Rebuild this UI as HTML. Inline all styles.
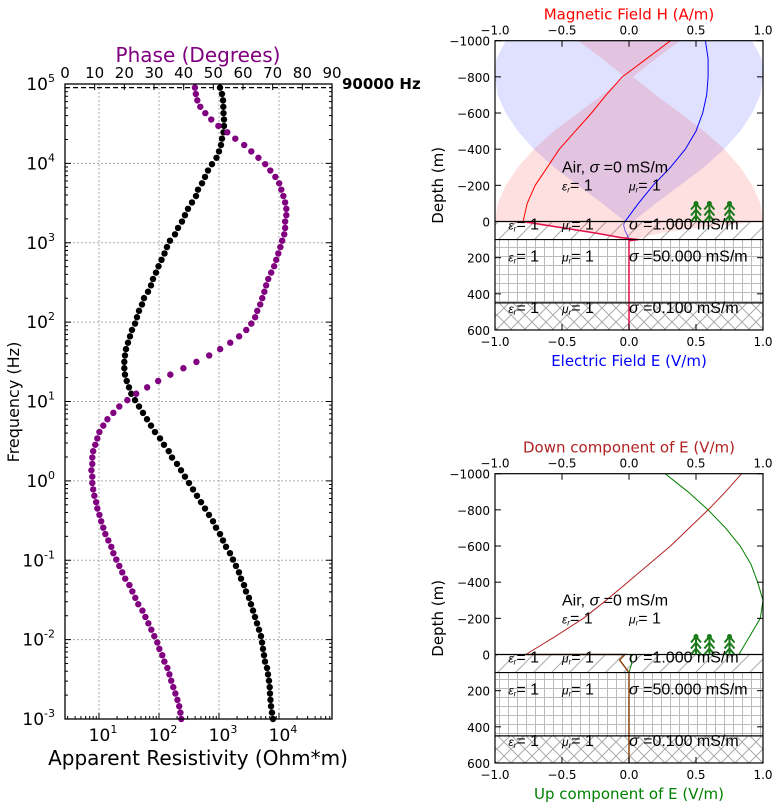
<!DOCTYPE html>
<html><head><meta charset="utf-8"><style>
body{margin:0;background:#fff}
svg text{font-family:"Liberation Sans","DejaVu Sans",sans-serif}
svg text.dv{font-family:"DejaVu Sans","Liberation Sans",sans-serif}
</style></head><body>
<svg id="s" width="779" height="807" viewBox="0 0 779 807" xmlns="http://www.w3.org/2000/svg">
<defs>
<pattern id="hDiag" patternUnits="userSpaceOnUse" width="18" height="18"><path d="M0,18 L18,0 M-3,3 L3,-3 M15,21 L21,15" stroke="#aaa" stroke-width="1"/></pattern>
<pattern id="hGrid" patternUnits="userSpaceOnUse" width="9" height="9"><path d="M4.5,0 V9 M0,4.5 H9" stroke="#bbb" stroke-width="1"/></pattern>
<pattern id="hCross" patternUnits="userSpaceOnUse" width="14" height="14"><path d="M0,0 L14,14 M14,0 L0,14" stroke="#aaa" stroke-width="1"/></pattern>
<clipPath id="cTop"><rect x="495" y="40.7" width="268" height="289.3"/></clipPath>
<clipPath id="cBot"><rect x="495" y="473.7" width="268" height="289"/></clipPath>
</defs>
<g id="left"></g>
<g id="top"></g>
<g id="bot"></g>
</svg>
<script>
const fMinLog = -3;
const fMaxLog = Math.log10(90000);
const nFreq = 100;
const apparentResistivityLog10 = [3.90,3.883,3.867,3.858,3.85,3.845,3.833,3.817,3.80,3.767,3.75,3.733,3.717,3.70,3.667,3.633,3.60,3.567,3.533,3.50,3.45,3.417,3.367,3.333,3.283,3.233,3.183,3.117,3.067,3.017,2.95,2.90,2.833,2.767,2.70,2.633,2.567,2.50,2.433,2.367,2.30,2.217,2.162,2.083,2.017,1.933,1.867,1.80,1.733,1.667,1.60,1.538,1.50,1.462,1.433,1.422,1.422,1.433,1.45,1.483,1.517,1.55,1.60,1.633,1.667,1.717,1.75,1.817,1.867,1.90,1.95,1.992,2.042,2.092,2.133,2.183,2.267,2.317,2.383,2.433,2.483,2.55,2.617,2.65,2.717,2.767,2.817,2.883,2.958,3.00,3.033,3.05,3.075,3.083,3.083,3.075,3.072,3.067,3.05,3.017];
const phaseDeg = [39.2,38.9,38.5,37.9,37.2,36.5,35.8,35.2,34.5,33.5,32.8,31.8,31.1,30.1,29.1,28.1,27.1,26.1,24.7,23.7,22.7,21.7,20.3,19.3,18.3,17.3,16.3,15.6,14.6,13.6,12.9,12.2,11.6,10.9,10.5,9.9,9.5,9.2,9.2,8.9,9.2,9.2,9.5,10.2,10.9,11.6,12.9,14.3,16.3,18.3,21.0,24.0,27.7,31.4,35.5,39.9,44.3,48.6,52.3,55.7,58.7,61.1,62.8,64.1,64.8,65.8,66.5,67.2,67.8,68.5,69.5,70.5,71.2,71.9,72.6,73.2,73.9,74.2,74.2,74.6,74.6,74.2,73.6,72.9,72.2,70.9,69.2,67.5,65.2,62.8,60.4,57.4,54.7,51.7,49.3,47.3,45.6,44.6,44.1,43.8];
const freqTickExp = [5,4,3,2,1,0,-1,-2,-3];
const rhoTickExp = [1,2,3,4];
const phaseTicks = [0,10,20,30,40,50,60,70,80,90];
const markerFreq = 90000;

const depthAir = [-1000,-900,-800,-700,-600,-500,-400,-300,-200,-100,0];
const hField = [0.31,0.13,-0.05,-0.17,-0.28,-0.40,-0.52,-0.61,-0.70,-0.76,-0.79];
const eField = [0.57,0.59,0.59,0.58,0.55,0.50,0.42,0.31,0.18,0.07,-0.03];
const hEnvelope = [0.38,0.20,0.03,0.20,0.38,0.56,0.71,0.83,0.92,0.98,1.0];
const eEnvelope = [0.92,0.99,1.0,0.98,0.92,0.83,0.71,0.56,0.38,0.20,0.03];
const depthL1H = [0,30,65,88,100,106,600];
const hFieldL1 = [-0.79,-0.54,-0.24,-0.07,0.07,0,0];
const depthL1E = [0,20,50,80,100,600];
const eFieldL1 = [-0.03,-0.04,-0.03,-0.01,0,0];
const depthL1Env = [0,20,40,60,80,100];
const hEnvelopeL1 = [1.0,0.7,0.45,0.27,0.13,0.06];
const downE = [0.84,0.72,0.59,0.45,0.31,0.15,-0.01,-0.17,-0.34,-0.55,-0.77];
const upE = [0.27,0.44,0.59,0.72,0.83,0.91,0.96,1.0,0.98,0.90,0.82];
const depthL1D = [0,0,30,60,100,600];
const downEL1 = [-0.77,-0.03,-0.07,-0.04,0,0];
const depthL1U = [0,0,50,100,600];
const upEL1 = [0.82,0.01,0.02,0,0];
const layerTops = [0,100,450];
const layerBottoms = [100,450,600];
const layerLabelDepth = [40,215,500];
const layerSigma = ["1.000","50.000","0.100"];
const layerHatch = ["hDiag","hGrid","hCross"];
const treeX = [0.5,0.6,0.75];
const depthTicks = [-1000,-800,-600,-400,-200,0,200,400,600];
const fieldTicks = [-1.0,-0.5,0.0,0.5,1.0];

const NS = "http://www.w3.org/2000/svg";
function mk(parent, tag, attrs, txt){const e=document.createElementNS(NS,tag);for(const k in attrs)e.setAttribute(k,attrs[k]);if(txt!==undefined)e.textContent=txt;parent.appendChild(e);return e;}

const L = document.getElementById('left');
const LX0=65, LX1=332, LY0=84, LY1=719;
const yF = lf => LY1 - (lf - (-3)) * (LY1-LY0)/8;
const xR = lr => 99 + (lr-1)*60;
const xP = p => LX0 + p*(LX1-LX0)/90;
freqTickExp.forEach(e=>{const g=mk(L,'line',{x1:LX0,x2:LX1,y1:yF(e),y2:yF(e),stroke:'#aaa','stroke-dasharray':'2,2'});
});
rhoTickExp.forEach(e=>{const g=mk(L,'line',{x1:xR(e),x2:xR(e),y1:LY0,y2:LY1,stroke:'#aaa','stroke-dasharray':'2,2'});
});
for(let e=-3;e<5;e++){for(let m=2;m<10;m++){const y=yF(e+Math.log10(m));mk(L,'line',{x1:LX0,x2:LX0+3,y1:y,y2:y,stroke:'#000'});mk(L,'line',{x1:LX1,x2:LX1-3,y1:y,y2:y,stroke:'#000'});}}
for(let e=0;e<5;e++){for(let m=1;m<10;m++){const x=xR(e+Math.log10(m));if(x<LX0||x>LX1)continue;const h=m===1?6:3;mk(L,'line',{x1:x,x2:x,y1:LY1,y2:LY1-h,stroke:'#000'});}}
freqTickExp.forEach(e=>{mk(L,'line',{x1:LX0,x2:LX0+6,y1:yF(e),y2:yF(e),stroke:'#000'});mk(L,'line',{x1:LX1,x2:LX1-6,y1:yF(e),y2:yF(e),stroke:'#000'});});
phaseTicks.forEach(p=>{mk(L,'line',{x1:xP(p),x2:xP(p),y1:LY0,y2:LY0+6,stroke:'#000'});
const t=mk(L,'text',{x:xP(p),y:78,'font-size':15,'text-anchor':'middle','class':'dv'},p);
});
freqTickExp.forEach(e=>{const t=mk(L,'text',{x:55,y:yF(e)+6,'font-size':17,'text-anchor':'end','class':'dv'});

t.appendChild(document.createTextNode('10'));mk(t,'tspan',{dy:-8,'font-size':11},String(e));});
rhoTickExp.forEach(e=>{const t=mk(L,'text',{x:xR(e)+4,y:741,'font-size':17,'text-anchor':'middle','class':'dv'});

t.appendChild(document.createTextNode('10'));mk(t,'tspan',{dy:-8,'font-size':11},e);});
const ym=yF(Math.log10(markerFreq));
const ml=mk(L,'line',{x1:LX0,x2:LX1,y1:ym,y2:ym,stroke:'#000','stroke-dasharray':'5,3','stroke-width':1.2});

const mt=mk(L,'text',{x:342,y:89,'font-size':15,'font-weight':'bold','class':'dv'},markerFreq+' Hz');

for(let i=0;i<nFreq;i++){const lf=fMinLog+i*(fMaxLog-fMinLog)/(nFreq-1);
const c=mk(L,'circle',{cx:xR(apparentResistivityLog10[i]),cy:yF(lf),r:3.2,fill:'#000'});

const d=mk(L,'circle',{cx:xP(phaseDeg[i]),cy:yF(lf),r:3.2,fill:'#800080'});
}
const fr=mk(L,'rect',{x:LX0,y:LY0,width:LX1-LX0,height:LY1-LY0,fill:'none',stroke:'#000','stroke-width':1.3});

let t=mk(L,'text',{x:198,y:62,'font-size':20,fill:'#800080','text-anchor':'middle','class':'dv'},'Phase (Degrees)');

t=mk(L,'text',{x:198,y:765,'font-size':20,'text-anchor':'middle','class':'dv'},'Apparent Resistivity (Ohm*m)');

t=mk(L,'text',{x:19,y:402,'font-size':16,'text-anchor':'middle','class':'dv',transform:'rotate(-90 19 402)'},'Frequency (Hz)');


const xV = v => 629 + v*134;
const EPS='<tspan font-style="italic" font-size="12">ε<tspan font-size="8" dy="2">r</tspan></tspan><tspan dy="-2" font-size="16">= 1</tspan>';
const MU='<tspan font-style="italic" font-size="12">μ<tspan font-size="8" dy="2">r</tspan></tspan><tspan dy="-2" font-size="16">= 1</tspan>';
function panel(G, y0, cp, topTitle, topColor, botTitle, botColor, kind){
  const yZ = z => y0 + z*0.1808;
  const yTopEdge=yZ(-1000), yBotEdge=yZ(600);
  for(let k=0;k<layerTops.length;k++){
    const r=mk(G,'rect',{x:495,y:yZ(layerTops[k]),width:268,height:yZ(layerBottoms[k])-yZ(layerTops[k]),fill:'url(#'+layerHatch[k]+')'});
    
  }
  const cg=mk(G,'g',{'clip-path':'url(#'+cp+')'});
  const env=(ds,a,col)=>{let p='';ds.forEach((d,i)=>p+=(i?'L':'M')+xV(-a[i])+','+yZ(d));for(let i=ds.length-1;i>=0;i--)p+='L'+xV(a[i])+','+yZ(ds[i]);return mk(cg,'path',{d:p+'Z',fill:col,stroke:'none'});};
  const line=(ds,vs,col,w)=>{let p='';ds.forEach((d,i)=>p+=(i?'L':'M')+xV(vs[i]).toFixed(1)+','+yZ(d).toFixed(1));return mk(cg,'path',{d:p,fill:'none',stroke:col,'stroke-width':w||1});};
  if(kind==='HE'){
    let e=env(depthAir,eEnvelope,'rgba(0,0,255,0.12)');
    e=env(depthAir,hEnvelope,'rgba(255,0,0,0.12)');
    e=env(depthL1Env,hEnvelopeL1,'rgba(255,0,0,0.12)');
    let l=line(depthAir,eField,'#00f');
    l=line(depthL1E,eFieldL1,'rgba(0,0,255,0.6)',1);
    l=line(depthAir,hField,'#f00');
    l=line(depthL1H,hFieldL1,'#e0104a',1.5);
  } else {
    let l=line(depthAir,upE,'#008000');
    l=line(depthL1U,upEL1,'#008000',1);
    l=line(depthAir,downE,'#b22222');
    l=line(depthL1D,downEL1,'#8b4513',1.5);
  }
  layerTops.forEach(z=>{const b=mk(G,'line',{x1:495,x2:763,y1:yZ(z),y2:yZ(z),stroke:'#000','stroke-width':1.2});
  });
  treeX.forEach(v=>{const x=xV(v),yb=yZ(0),tg=mk(G,'g',{stroke:'#1a7a1a','stroke-width':2,fill:'none'});
    
    mk(tg,'line',{x1:x,x2:x,y1:yb,y2:yb-19});
    [0,6,12].forEach(o=>mk(tg,'path',{d:`M${x-5},${yb-o} L${x},${yb-o-6} L${x+5},${yb-o}`}));
    mk(tg,'circle',{cx:x,cy:yb-18,r:1.5,fill:'#1a7a1a'});});
  const txt=(x,y,s,name)=>{const e=mk(G,'text',{x:x,y:y,'font-size':16});e.innerHTML=s;return e;};
  txt(xV(-0.5),yZ(-300)+5,'Air, <tspan font-style="italic">σ</tspan> =0 mS/m','air-label');
  txt(xV(-0.5),yZ(-200)+5,EPS,'air-epsilon-label');
  txt(xV(0),yZ(-200)+5,MU,'air-mu-label');
  layerTops.forEach((z,k)=>{const yy=yZ(layerLabelDepth[k])+1;
    txt(xV(-0.9),yy,EPS,'layer-epsilon-label');
    txt(xV(-0.5),yy,MU,'layer-mu-label');
    txt(xV(0),yy,'<tspan font-style="italic">σ</tspan> ='+layerSigma[k]+' mS/m','layer-sigma-label');});
  const f=mk(G,'rect',{x:495,y:yTopEdge,width:268,height:yBotEdge-yTopEdge,fill:'none',stroke:'#000','stroke-width':1.2});
  
  depthTicks.forEach(z=>{mk(G,'line',{x1:495,x2:501,y1:yZ(z),y2:yZ(z),stroke:'#000'});mk(G,'line',{x1:763,x2:757,y1:yZ(z),y2:yZ(z),stroke:'#000'});
    const e=mk(G,'text',{x:490,y:yZ(z)+5,'font-size':12,'text-anchor':'end','class':'dv'},(z<0?'\u2212':'')+Math.abs(z));
    });
  fieldTicks.forEach(v=>{const x=xV(v);mk(G,'line',{x1:x,x2:x,y1:yTopEdge,y2:yTopEdge+6,stroke:'#000'});mk(G,'line',{x1:x,x2:x,y1:yBotEdge,y2:yBotEdge-6,stroke:'#000'});
    const s=(v<0?'\u2212':'')+Math.abs(v).toFixed(1);
    let e=mk(G,'text',{x:x,y:yTopEdge-6,'font-size':12,'text-anchor':'middle','class':'dv'},s);
    e=mk(G,'text',{x:x,y:yBotEdge+16,'font-size':12,'text-anchor':'middle','class':'dv'},s);});
  let e=mk(G,'text',{x:629,y:yTopEdge-21,'font-size':15,fill:topColor,'text-anchor':'middle','class':'dv'},topTitle);
  e=mk(G,'text',{x:629,y:yBotEdge+36,'font-size':15,fill:botColor,'text-anchor':'middle','class':'dv'},botTitle);
  const cy=(yTopEdge+yBotEdge)/2;
  e=mk(G,'text',{x:443,y:cy,'font-size':15,'text-anchor':'middle','class':'dv',transform:`rotate(-90 443 ${cy})`},'Depth (m)');
}
panel(document.getElementById('top'),221.5,'cTop','Magnetic Field H (A/m)','#f00','Electric Field E (V/m)','#00f','HE');
panel(document.getElementById('bot'),654.5,'cBot','Down component of E (V/m)','#b22222','Up component of E (V/m)','#008000','DU');
</script>
</body></html>
